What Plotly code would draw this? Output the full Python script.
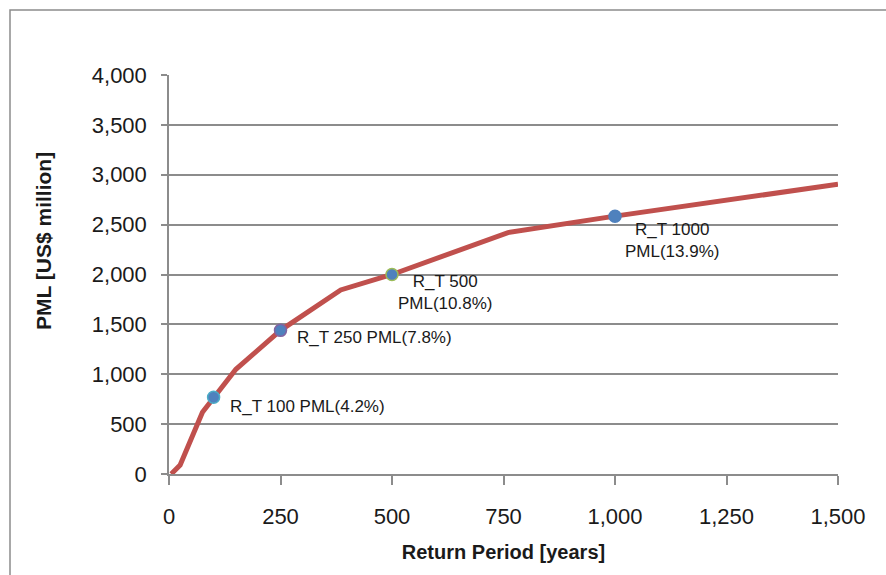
import plotly.graph_objects as go

# PML curve (return period in years vs. probable maximum loss in US$ million)
return_period = [5, 25, 75, 100, 150, 250, 385, 500, 760, 1000, 1500]
pml_usd_m = [0, 90, 620, 770, 1050, 1440, 1845, 2000, 2420, 2585, 2905]

# Highlighted return periods
rt_years = [100, 250, 500, 1000]
rt_pml = [770, 1440, 2000, 2585]
rt_labels = ["R_T 100 PML(4.2%)", "R_T 250 PML(7.8%)", "R_T 500<br>PML(10.8%)", "R_T 1000<br>PML(13.9%)"]
rt_outline = ["#4BACC6", "#8064A2", "#9BBB59", "#4F81BD"]

x_ticks = [0, 250, 500, 750, 1000, 1250, 1500]
y_ticks = [0, 500, 1000, 1500, 2000, 2500, 3000, 3500, 4000]

FONT = "Liberation Sans, Arial, sans-serif"
GRID = "#8C8C8C"

# plot-area geometry in pixels
L, R, T, B = 169, 48, 75, 101
W, H = 886 - L - R, 575 - T - B

fig = go.Figure()

fig.add_trace(go.Scatter(
    x=return_period, y=pml_usd_m, mode="lines",
    line=dict(color="#C0504D", width=5),
    hoverinfo="x+y", showlegend=False, cliponaxis=False,
))

for xv, yv, outline in zip(rt_years, rt_pml, rt_outline):
    fig.add_trace(go.Scatter(
        x=[xv], y=[yv], mode="markers",
        marker=dict(size=12, color="#4F81BD", line=dict(color=outline, width=1.5)),
        showlegend=False, cliponaxis=False,
    ))

# Label placement around each highlighted point
label_pos = [
    dict(xanchor="left", yanchor="middle", xshift=14, yshift=-9, align="left"),
    dict(xanchor="left", yanchor="middle", xshift=14, yshift=-7, align="left"),
    dict(xanchor="center", yanchor="top", xshift=53, yshift=5, align="center"),
    dict(xanchor="center", yanchor="top", xshift=57, yshift=-2, align="center"),
]
for xv, yv, text, pos in zip(rt_years, rt_pml, rt_labels, label_pos):
    fig.add_annotation(
        x=xv, y=yv, text=text, showarrow=False,
        font=dict(family=FONT, size=17, color="#1a1a1a"), **pos,
    )

# Y axis title, centred on the chart area
fig.add_annotation(
    xref="paper", yref="paper", x=(43 - L) / W, y=(474 - 241) / H,
    text="<b>PML [US$ million]</b>", textangle=-90, showarrow=False,
    xanchor="center", yanchor="middle",
    font=dict(family=FONT, size=21, color="#1a1a1a"),
)

# Outer chart-area frame
fig.add_shape(
    type="rect", xref="paper", yref="paper",
    x0=(10 - L) / W, x1=(900 - L) / W,
    y0=(474 - 620) / H, y1=(474 - 10) / H,
    line=dict(color="#8C8C8C", width=1.5), fillcolor="rgba(0,0,0,0)", layer="below",
)

fig.update_layout(
    width=886, height=575,
    margin=dict(l=L, r=R, t=T, b=B),
    paper_bgcolor="white", plot_bgcolor="white",
    font=dict(family=FONT, size=22, color="#1a1a1a"),
    xaxis=dict(
        range=[0, 1500], tickvals=x_ticks, tickformat=",d",
        showgrid=False, zeroline=False,
        showline=True, linecolor=GRID, linewidth=1.5,
        ticks="outside", ticklen=9, tickcolor=GRID, tickwidth=1.5,
        tickfont=dict(size=22), ticklabelstandoff=13,
        title=dict(text="<b>Return Period [years]</b>", font=dict(size=20), standoff=17),
    ),
    yaxis=dict(
        range=[0, 4000], tickvals=y_ticks, tickformat=",d",
        showgrid=True, gridcolor=GRID, gridwidth=1.5, zeroline=False,
        showline=True, linecolor=GRID, linewidth=1.5,
        ticks="outside", ticklen=6, tickcolor=GRID, tickwidth=1.5,
        tickfont=dict(size=22), ticklabelstandoff=10,
    ),
)

fig.write_html("out.html")
